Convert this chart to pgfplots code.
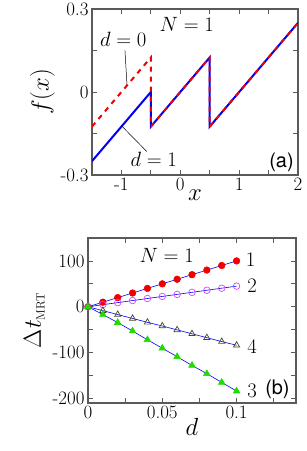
\documentclass[border=0pt]{standalone}
\usepackage{pgfplots}
\pgfplotsset{compat=1.18}
\usepackage{fontspec}
\newfontfamily\helv{TeX Gyre Heros}
\definecolor{myred}{RGB}{240,0,0}
\definecolor{myblue}{RGB}{0,0,245}
\definecolor{mymag}{RGB}{215,70,255}
\definecolor{myolive}{RGB}{70,70,40}
\definecolor{mygreen}{RGB}{30,220,0}
\definecolor{frame}{RGB}{90,90,90}
\newcommand{\tickfont}{\fontsize{19}{19}\selectfont}
\newcommand{\annfont}{\fontsize{22.5}{22.5}\selectfont}
\newcommand{\labfont}{\fontsize{27}{27}\selectfont}
\pgfplotsset{
  common/.style={
    scale only axis,
    anchor=north west,
    axis line style={frame, line width=1.1bp},
    every tick/.style={frame, line width=0.8bp},
    tick align=inside,
    tick pos=both,
    major tick length=5bp,
    ticklabel style={font=\tickfont},
    label style={font=\labfont},
    xticklabel style={yshift=1bp},
    clip=true,
  }
}
\begin{document}
\begin{tikzpicture}
\useasboundingbox (0,0) rectangle (307bp,-451bp);
% ---------- panel (a)
\begin{axis}[common,
  at={(92bp,-9bp)}, width=206bp, height=166bp,
  xmin=-1.5, xmax=2, ymin=-0.3, ymax=0.3,
  xtick={-1.5,-1,-0.5,0,0.5,1,1.5,2},
  xticklabels={{},-1,{},0,{},1,{},2},
  ytick={-0.3,-0.15,0,0.15,0.3},
  yticklabels={-0.3,{},0,{},0.3},
  xlabel={$x$}, ylabel={$f(x)$},
  xlabel style={yshift=7bp},
  ylabel style={yshift=-1bp},
]
\addplot[myblue, line width=2bp] coordinates {
(-1.5,-0.25) (-0.5,0) (-0.5,-0.125) (0.5,0.125) (0.5,-0.125) (2,0.25)};
\addplot[myred, line width=2bp, dash pattern=on 5bp off 5bp] coordinates {
(-1.5,-0.125) (-0.5,0.125) (-0.5,-0.125) (0.5,0.125) (0.5,-0.125) (2,0.25)};
\draw[black, line width=0.5bp] (axis cs:-0.94,0.15) -- (axis cs:-0.905,0.024);
\draw[black, line width=0.5bp] (axis cs:-0.57,-0.215) -- (axis cs:-0.99,-0.124);
\node[font=\annfont] at (axis cs:-0.97,0.19) {$d=0$};
\node[font=\annfont] at (axis cs:-0.45,-0.245) {$d=1$};
\node[font=\annfont] at (axis cs:0.11,0.245) {$N=1$};
\node[font=\helv\fontsize{20}{20}\selectfont] at (axis cs:1.72,-0.255) {(a)};
\end{axis}
% ---------- panel (b)
\begin{axis}[common,
  at={(88bp,-238bp)}, width=208bp, height=165bp,
  xmin=0, xmax=0.14, ymin=-210, ymax=150,
  xtick={0,0.025,0.05,0.075,0.1,0.125},
  xticklabels={0,{},0.05,{},0.1,{}},
  ytick={-200,-150,-100,-50,0,50,100,150},
  yticklabels={-200,{},-100,{},0,{},100,{}},
  xlabel={$d$}, ylabel={$\Delta t_{\hbox{\fontsize{12}{12}\selectfont MRT}}$},
  xlabel style={yshift=7bp},
  ylabel style={yshift=1bp},
  clip=false,
]
\addplot[myblue, line width=0.6bp, mark=*, mark size=3.3bp,
  mark options={draw=myred, fill=myred}] coordinates {
(0,0) (0.01,10) (0.02,20) (0.03,30) (0.04,40) (0.05,50) (0.06,60) (0.07,70) (0.08,80) (0.09,90) (0.1,100)};
\addplot[myblue, line width=0.6bp, mark=o, mark size=3.3bp,
  mark options={draw=mymag, line width=0.7bp}] coordinates {
(0,0) (0.01,4.5) (0.02,9) (0.03,13.5) (0.04,18) (0.05,22.5) (0.06,27) (0.07,31.5) (0.08,36) (0.09,40.5) (0.1,45)};
\addplot[myblue, line width=0.6bp, mark=triangle, mark size=3.6bp,
  mark options={draw=myolive, line width=0.7bp}] coordinates {
(0,0) (0.01,-8.5) (0.02,-17) (0.03,-25.5) (0.04,-34) (0.05,-42) (0.06,-50.5) (0.07,-59) (0.08,-67.5) (0.09,-76) (0.1,-84)};
\addplot[myblue, line width=0.6bp, mark=triangle*, mark size=3.8bp,
  mark options={draw=mygreen, fill=mygreen}] coordinates {
(0,0) (0.01,-17) (0.02,-34.5) (0.03,-53) (0.04,-72) (0.05,-90.5) (0.06,-109) (0.07,-128) (0.08,-146) (0.09,-165) (0.1,-184)};
\node[font=\annfont] at (axis cs:0.053,113) {$N=1$};
\node[font=\annfont] at (axis cs:0.1095,102) {$1$};
\node[font=\annfont] at (axis cs:0.1105,46) {$2$};
\node[font=\annfont] at (axis cs:0.1105,-87) {$4$};
\node[font=\annfont] at (axis cs:0.1105,-183) {$3$};
\node[font=\helv\fontsize{20}{20}\selectfont] at (axis cs:0.1275,-181) {(b)};
\end{axis}
\end{tikzpicture}
\end{document}
